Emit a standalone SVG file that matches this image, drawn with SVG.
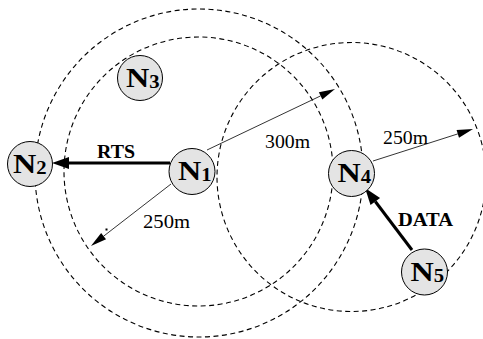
<svg xmlns="http://www.w3.org/2000/svg" width="483" height="339" viewBox="0 0 483 339">
<style>
.range{fill:none;stroke:#000;stroke-width:1.1;stroke-dasharray:5 3.5}
.node{fill:#e4e4e4;stroke:#000;stroke-width:1}
.nl{font-family:'Liberation Serif','DejaVu Serif',serif;font-weight:bold;font-size:28px;fill:#000}
.sub{font-size:18px}
.thick{stroke:#000;stroke-width:3;fill:none}
.thin{stroke:#000;stroke-width:0.8;fill:none}
.lab{font-family:'Liberation Serif','DejaVu Serif',serif;font-size:19px;fill:#000}
.blab{font-family:'Liberation Serif','DejaVu Serif',serif;font-weight:bold;font-size:18px;fill:#000}
</style>
<defs>
<marker id="hb" markerUnits="userSpaceOnUse" markerWidth="18" markerHeight="12" refX="0" refY="6" orient="auto" viewBox="0 0 18 12" overflow="visible">
<path d="M0,0 L17,6 L0,12 z" fill="#000"/>
</marker>
<marker id="ht" markerUnits="userSpaceOnUse" markerWidth="17" markerHeight="10" refX="0" refY="5" orient="auto" viewBox="0 0 17 10" overflow="visible">
<path d="M0,1 L16,5 L0,9 z" fill="#000"/>
</marker>
</defs>
<g id="ranges">
<circle class="range" cx="199" cy="173" r="164"/>
<circle class="range" cx="198.5" cy="171.5" r="134.5"/>
<circle class="range" cx="351.5" cy="177" r="134.5"/>
</g>
<g id="connectors">
<line class="thick" x1="170" y1="163" x2="69" y2="163" marker-end="url(#hb)"/>
<line class="thick" x1="412" y1="250" x2="375.3" y2="201.5" marker-end="url(#hb)"/>
<line class="thin" x1="207" y1="150" x2="320.6" y2="95.9" marker-end="url(#ht)"/>
<line class="thin" x1="373" y1="161" x2="457.8" y2="133.9" marker-end="url(#ht)"/>
<line class="thin" x1="171" y1="184" x2="103.6" y2="236.2" marker-end="url(#ht)"/>
<rect x="105.5" y="228.5" width="2" height="2" fill="#000"/>
</g>
<g id="labels">
<text class="blab" x="97" y="158" textLength="38" lengthAdjust="spacingAndGlyphs">RTS</text>
<text class="blab" x="398" y="226" textLength="55" lengthAdjust="spacingAndGlyphs">DATA</text>
<text class="lab" x="265" y="148" textLength="45" lengthAdjust="spacingAndGlyphs">300m</text>
<text class="lab" x="383" y="144" textLength="45" lengthAdjust="spacingAndGlyphs">250m</text>
<text class="lab" x="143" y="228" textLength="47" lengthAdjust="spacingAndGlyphs">250m</text>
</g>
<g id="N1">
<circle class="node" cx="192" cy="171.5" r="23"/>
<text class="nl" transform="translate(178,179.5) scale(1.15,1)">N<tspan class="sub" dy="1">1</tspan></text>
</g>
<g id="N2">
<circle class="node" cx="30" cy="164" r="22.5"/>
<text class="nl" transform="translate(13,173) scale(1.15,1)">N<tspan class="sub" dy="1">2</tspan></text>
</g>
<g id="N3">
<circle class="node" cx="140" cy="78" r="22.5"/>
<text class="nl" transform="translate(126,86.5) scale(1.15,1)">N<tspan class="sub" dy="1">3</tspan></text>
</g>
<g id="N4">
<circle class="node" cx="351.5" cy="173.5" r="23"/>
<text class="nl" transform="translate(337.5,182) scale(1.15,1)">N<tspan class="sub" dy="1">4</tspan></text>
</g>
<g id="N5">
<circle class="node" cx="424.5" cy="272" r="23"/>
<text class="nl" transform="translate(410.5,280.5) scale(1.15,1)">N<tspan class="sub" dy="1">5</tspan></text>
</g>
</svg>
